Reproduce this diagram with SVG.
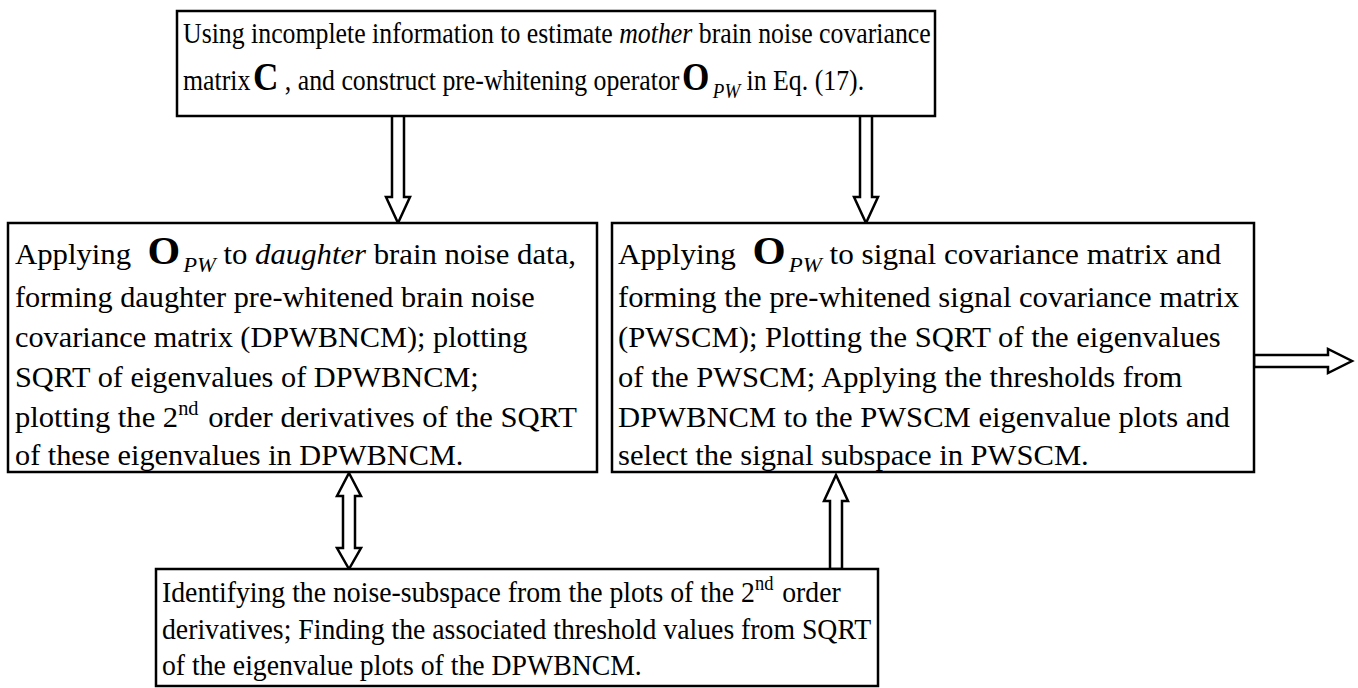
<svg xmlns="http://www.w3.org/2000/svg" width="1358" height="688" viewBox="0 0 1358 688">
<style>
.box{fill:#fff;stroke:#000;stroke-width:2.5}
.arr{fill:#fff;stroke:#000;stroke-width:2.5;stroke-linejoin:miter}
.t{font-family:"Liberation Serif","Times New Roman",serif;font-size:30px;fill:#000}
.i{font-style:italic}
.b{font-weight:bold;font-size:41px}
.sub{font-style:italic;font-size:22px}
.sup{font-size:20px}
</style>
<rect width="1358" height="688" fill="#fff"/>
<g id="connectors">
<polygon class="arr" points="392,113 404,113 404,197 410,197 398,223 386,197 392,197"/>
<polygon class="arr" points="860,113 872,113 872,197 878,197 866,223 854,197 860,197"/>
<polygon class="arr" points="1254,355 1328,355 1328,349 1352,361 1328,373 1328,367 1254,367"/>
<polygon class="arr" points="349,473 361,496 355,496 355,548 361,548 349,569 337,548 343,548 343,496 337,496"/>
<polygon class="arr" points="836,475 848,501 842,501 842,569 830,569 830,501 824,501"/>
</g>
<g id="top">
<rect class="box" x="177" y="11" width="758" height="105"/>
<text class="t" transform="translate(183,43) scale(0.86,1)">Using incomplete information to estimate <tspan class="i">mother</tspan> brain noise covariance</text>
<text class="t" transform="translate(183,90) scale(0.86,1)">matrix<tspan class="b" dx="3">C</tspan> , and construct pre-whitening operator<tspan class="b" dx="3">O</tspan><tspan class="sub" dx="4" dy="8">PW</tspan><tspan dy="-8"> in Eq. (17).</tspan></text>
</g>
<g id="left">
<rect class="box" x="8" y="223" width="589" height="249"/>
<text class="t" transform="translate(15,264) scale(1.025,1)">Applying<tspan class="b" dx="16">O</tspan><tspan class="sub" dx="3" dy="8">PW</tspan><tspan dy="-8"> to </tspan><tspan class="i">daughter</tspan> brain noise data,</text>
<text class="t" transform="translate(15,307) scale(1.01,1)">forming daughter pre-whitened brain noise</text>
<text class="t" transform="translate(15,347) scale(1.01,1)">covariance matrix (DPWBNCM); plotting</text>
<text class="t" transform="translate(15,387) scale(1.01,1)">SQRT of eigenvalues of DPWBNCM;</text>
<text class="t" transform="translate(15,427) scale(1.02,1)">plotting the 2<tspan class="sup" dy="-12">nd</tspan><tspan dy="12" dx="2"> order derivatives of the SQRT</tspan></text>
<text class="t" transform="translate(15,465) scale(1.01,1)">of these eigenvalues in DPWBNCM.</text>
</g>
<g id="right">
<rect class="box" x="612" y="223" width="642" height="249"/>
<text class="t" transform="translate(618,264) scale(1.04,1)">Applying<tspan class="b" dx="16">O</tspan><tspan class="sub" dx="3" dy="8">PW</tspan><tspan dy="-8"> to signal covariance matrix and</tspan></text>
<text class="t" transform="translate(618,307) scale(1.02,1)">forming the pre-whitened signal covariance matrix</text>
<text class="t" transform="translate(618,347) scale(1.02,1)">(PWSCM); Plotting the SQRT of the eigenvalues</text>
<text class="t" transform="translate(618,387) scale(1.02,1)">of the PWSCM; Applying the thresholds from</text>
<text class="t" transform="translate(618,427) scale(1.02,1)">DPWBNCM to the PWSCM eigenvalue plots and</text>
<text class="t" transform="translate(618,465) scale(1.02,1)">select the signal subspace in PWSCM.</text>
</g>
<g id="bottom">
<rect class="box" x="156" y="569" width="722" height="117"/>
<text class="t" transform="translate(162,602) scale(0.925,1)">Identifying the noise-subspace from the plots of the 2<tspan class="sup" dy="-12">nd</tspan><tspan dy="12" dx="2"> order</tspan></text>
<text class="t" transform="translate(162,639) scale(0.925,1)">derivatives; Finding the associated threshold values from SQRT</text>
<text class="t" transform="translate(162,675) scale(0.925,1)">of the eigenvalue plots of the DPWBNCM.</text>
</g>
</svg>
